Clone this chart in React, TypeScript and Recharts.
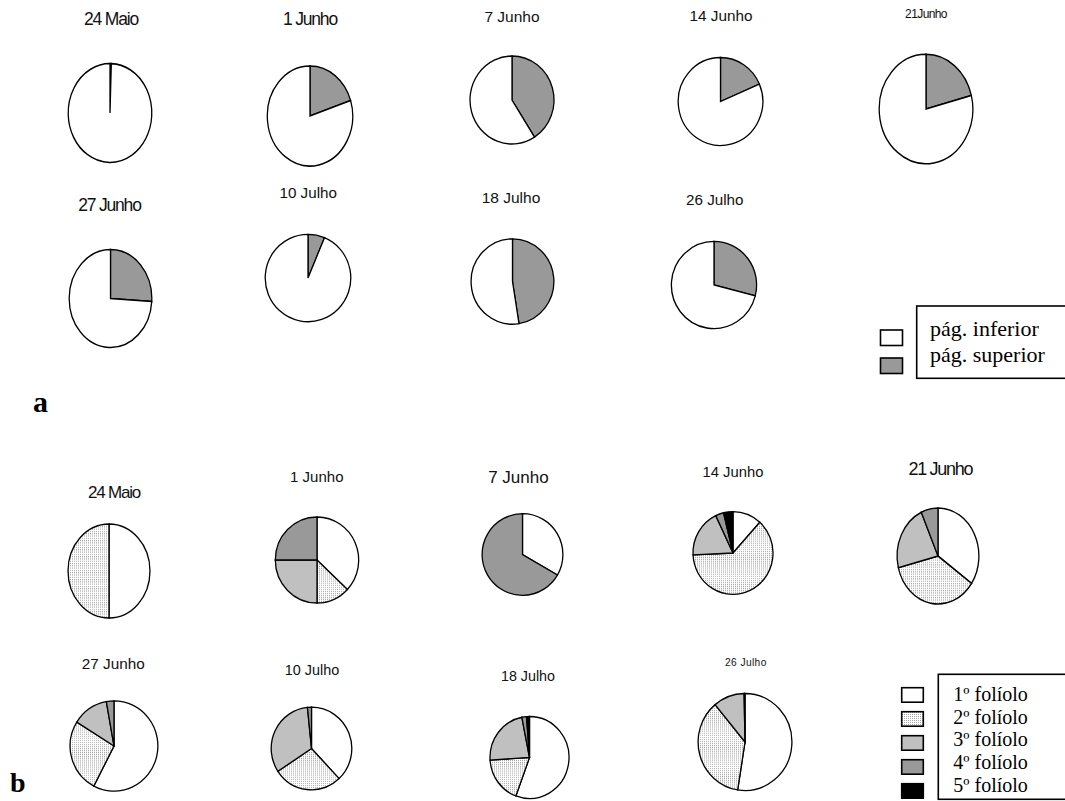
import { PieChart, Pie, Cell } from 'recharts';

// a: share of each leaf surface per sampling date (%)
const datesA = ['24 Maio', '1 Junho', '7 Junho', '14 Junho', '21Junho', '27 Junho', '10 Julho', '18 Julho', '26 Julho'];
const superiorA = [0.5, 20, 41, 18.5, 21, 26, 6.3, 47.5, 29];
const inferiorA = [99.5, 80, 59, 81.5, 79, 74, 93.7, 52.5, 71];
const pageNames = ['pág. inferior', 'pág. superior'];

// b: share of each leaflet per sampling date (%)
const datesB = ['24 Maio', '1 Junho', '7 Junho', '14 Junho', '21 Junho', '27 Junho', '10 Julho', '18 Julho', '26 Julho'];
const leaflet1 = [50, 37, 33.4, 11.7, 34.7, 57.6, 38, 55.6, 52.5];
const leaflet2 = [50, 13, 0, 62.6, 36.4, 26.3, 27.7, 18.4, 36.5];
const leaflet3 = [0, 25, 0, 18.6, 22.2, 13.3, 32.7, 22.9, 10.7];
const leaflet4 = [0, 25, 66.6, 3.3, 6.7, 2.8, 1.6, 1.9, 0.3];
const leaflet5 = [0, 0, 0, 3.8, 0, 0, 0, 1.2, 0];
const leafletNames = ['1º folíolo', '2º folíolo', '3º folíolo', '4º folíolo', '5º folíolo'];

const pageColors = ['#ffffff', '#999999'];
const leafletColors = ['#ffffff', 'url(#stipple)', '#c0c0c0', '#999999', '#000000'];

// pie centres and radii (rx, ry) on the page
const pieBoxesA = [
  { cx: 109.7, cy: 113, rx: 41.8, ry: 49.4 },
  { cx: 309.6, cy: 116, rx: 42.7, ry: 50 },
  { cx: 512, cy: 100, rx: 42, ry: 44 },
  { cx: 720.3, cy: 101.3, rx: 42.3, ry: 44 },
  { cx: 925.7, cy: 109.3, rx: 46.8, ry: 54.7 },
  { cx: 110.2, cy: 298, rx: 41.3, ry: 49 },
  { cx: 307.8, cy: 278, rx: 42.8, ry: 43.7 },
  { cx: 512.4, cy: 281.3, rx: 41.4, ry: 42.7 },
  { cx: 713.8, cy: 285, rx: 42.6, ry: 43.6 },
];
const pieBoxesB = [
  { cx: 108.8, cy: 570.9, rx: 41, ry: 47 },
  { cx: 317, cy: 559.5, rx: 41.7, ry: 43 },
  { cx: 522.4, cy: 554.8, rx: 40.4, ry: 40.8 },
  { cx: 733, cy: 553.4, rx: 40, ry: 41.4 },
  { cx: 938, cy: 556, rx: 40.9, ry: 48 },
  { cx: 113.8, cy: 745.7, rx: 43.9, ry: 45.1 },
  { cx: 311.6, cy: 748.8, rx: 40.3, ry: 41.3 },
  { cx: 529.2, cy: 757, rx: 39.5, ry: 41 },
  { cx: 744.9, cy: 742, rx: 46.9, ry: 48.5 },
];

// title centre, font size and letter spacing
const titleBoxesA = [
  { x: 111, y: 19, size: 17.5, ls: -1.2 },
  { x: 310, y: 19, size: 17.5, ls: -1.2 },
  { x: 512, y: 16, size: 15.5, ls: 0 },
  { x: 721, y: 15.6, size: 15.3, ls: 0 },
  { x: 926, y: 14, size: 12, ls: -0.6 },
  { x: 109.5, y: 205, size: 17.5, ls: -1.2 },
  { x: 308.2, y: 193, size: 15.2, ls: 0 },
  { x: 511, y: 197, size: 15.5, ls: 0 },
  { x: 714.8, y: 199.8, size: 15.2, ls: 0 },
];
const titleBoxesB = [
  { x: 114, y: 492.3, size: 17, ls: -1.2 },
  { x: 316.8, y: 477, size: 15, ls: 0 },
  { x: 518.4, y: 476.5, size: 17, ls: 0 },
  { x: 733, y: 471.6, size: 14.8, ls: 0 },
  { x: 940.3, y: 468.2, size: 18, ls: -1.3 },
  { x: 113.3, y: 663.4, size: 15.3, ls: 0 },
  { x: 312, y: 669.6, size: 14.4, ls: 0 },
  { x: 528, y: 676, size: 14.3, ls: 0 },
  { x: 745.9, y: 662, size: 10.2, ls: 0.4 },
];

type Slice = { name: string; value: number };

function SmallPie({ data, colors, box }: { data: Slice[]; colors: string[]; box: { cx: number; cy: number; rx: number; ry: number } }) {
  const size = Math.ceil(box.rx * 2 + 8);
  return (
    <div
      style={{
        position: 'absolute',
        left: box.cx - size / 2,
        top: box.cy - size / 2,
        width: size,
        height: size,
        transform: `scaleY(${box.ry / box.rx})`,
      }}
    >
      <PieChart width={size} height={size} margin={{ top: 0, right: 0, bottom: 0, left: 0 }}>
        <Pie
          data={data}
          dataKey="value"
          cx="50%"
          cy="50%"
          outerRadius={box.rx}
          startAngle={90}
          endAngle={-270}
          stroke="#000"
          strokeWidth={1.3}
          isAnimationActive={false}
        >
          {data.map((_, i) => <Cell key={i} fill={colors[i]} />)}
        </Pie>
      </PieChart>
    </div>
  );
}

export default function App() {
  const sansFont = '"Liberation Sans", Arial, sans-serif';
  const serifFont = '"Liberation Serif", "Times New Roman", serif';

  const title = (label: string, t: { x: number; y: number; size: number; ls: number }, key: string) => (
    <text key={key} x={t.x} y={t.y + t.size * 0.358} textAnchor="middle" fontFamily={sansFont} fontSize={t.size} letterSpacing={t.ls} fill="#111">
      {label}
    </text>
  );

  const leafletSeries = [leaflet1, leaflet2, leaflet3, leaflet4, leaflet5];

  return (
    <div style={{ position: 'absolute', left: 0, top: 0, width: 1065, height: 801, background: '#fff', overflow: 'hidden' }}>
      <svg width={0} height={0} style={{ position: 'absolute' }}>
        <defs>
          {/* fine light dot fill for the 2nd leaflet */}
          <pattern id="stipple" patternUnits="userSpaceOnUse" width={2} height={2}>
            <rect width={2} height={2} fill="#ffffff" />
            <rect width={1} height={1} fill="#a6a6a6" />
          </pattern>
        </defs>
      </svg>

      {datesA.map((d, i) => (
        <SmallPie
          key={'a' + d}
          box={pieBoxesA[i]}
          colors={[pageColors[1], pageColors[0]]}
          data={[
            { name: pageNames[1], value: superiorA[i] },
            { name: pageNames[0], value: inferiorA[i] },
          ]}
        />
      ))}

      {datesB.map((d, i) => (
        <SmallPie
          key={'b' + d}
          box={pieBoxesB[i]}
          colors={leafletColors}
          data={leafletNames.map((n, k) => ({ name: n, value: leafletSeries[k][i] }))}
        />
      ))}

      <svg width={1065} height={801} style={{ position: 'absolute', left: 0, top: 0 }}>
        {datesA.map((d, i) => title(d, titleBoxesA[i], 'ta' + i))}
        {datesB.map((d, i) => title(d, titleBoxesB[i], 'tb' + i))}

        {/* legend a */}
        <rect x={916.7} y={306} width={170} height={72.3} fill="#fff" stroke="#000" strokeWidth={1.6} />
        {pageNames.map((n, i) => (
          <g key={n}>
            <rect x={880.5} y={330 + i * 28} width={22} height={15.5} fill={pageColors[i]} stroke="#000" strokeWidth={1.6} />
            <text x={930} y={336 + i * 25.7} fontFamily={serifFont} fontSize={22} fill="#000">{n}</text>
          </g>
        ))}
        <text x={33} y={411.5} fontFamily={serifFont} fontWeight="bold" fontSize={30} fill="#000">a</text>

        {/* legend b */}
        <rect x={938.3} y={674.3} width={150} height={125} fill="#fff" stroke="#000" strokeWidth={1.6} />
        {leafletNames.map((n, i) => (
          <g key={n}>
            <rect x={901.7} y={687.7 + i * 24} width={21.6} height={14.5} fill={leafletColors[i]} stroke="#000" strokeWidth={1.6} />
            <text x={953.3} y={701 + i * 22.7} fontFamily={serifFont} fontSize={20} fill="#000">{n}</text>
          </g>
        ))}
        <text x={10} y={791.7} fontFamily={serifFont} fontWeight="bold" fontSize={28} fill="#000">b</text>
      </svg>
    </div>
  );
}
